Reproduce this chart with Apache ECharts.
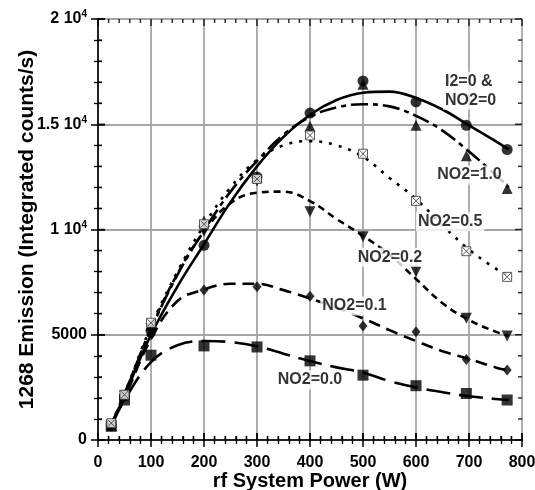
<!DOCTYPE html>
<html><head><meta charset="utf-8">
<script src="https://cdn.jsdelivr.net/npm/echarts@6.0.0/dist/echarts.min.js"></script>
<style>html,body{margin:0;padding:0;background:#fff}#c{width:535px;height:490px}</style>
</head><body><div id="c"></div>
<script>
// ---- data ----
const measPower = [25, 50, 100, 200, 300, 400, 500, 600, 695, 772];
const measI2NO2zero = [680, 2100, 5200, 9250, 12500, 15530, 17060, 16060, 14950, 13800];
const measNO2_10 = [700, 2150, 5450, 10400, 12500, 14900, 16900, 14950, 13500, 11950];
const measNO2_05 = [800, 2150, 5570, 10250, 12400, 14470, 13600, 11360, 8970, 7750];
const measNO2_02 = [700, 2100, 5300, 9900, 12300, 10840, 9650, 7990, 5780, 4940];
const measNO2_01 = [750, 2050, 5000, 7120, 7280, 6830, 5410, 5140, 3830, 3320];
const measNO2_00 = [650, 1900, 4030, 4470, 4420, 3760, 3080, 2580, 2210, 1900];

const fitPower = [25, 50, 100, 150, 200, 250, 300, 350, 400, 450, 500, 550, 600, 650, 700, 750, 775];
const fitI2NO2zero = [700, 2100, 5000, 7300, 9300, 11300, 13000, 14400, 15450, 16150, 16500, 16550, 16250, 15700, 14950, 14200, 13800];
const fitNO2_10 = [700, 2200, 5250, 7850, 9950, 11800, 13250, 14500, 15350, 15800, 15950, 15850, 15400, 14700, 13700, 12600, 12000];
const fitNO2_05 = [800, 2200, 5400, 8000, 10200, 12000, 13300, 14000, 14200, 14000, 13450, 12450, 11450, 10200, 9050, 8150, 7800];
const fitNO2_02 = [700, 2150, 5300, 7900, 9900, 11250, 11750, 11800, 11350, 10500, 9700, 8800, 7650, 6500, 5700, 5150, 4950];
const fitNO2_01 = [750, 2000, 4800, 6600, 7150, 7420, 7420, 7120, 6720, 6280, 5780, 5220, 4700, 4220, 3850, 3450, 3300];
const fitNO2_00 = [650, 1900, 3700, 4500, 4700, 4650, 4450, 4100, 3750, 3450, 3200, 2800, 2500, 2270, 2080, 1950, 1900];

const xTicks = [0, 100, 200, 300, 400, 500, 600, 700, 800];
const yTicks = [0, 5000, 10000, 15000, 20000];
const yTickLabels = {0: '0', 5000: '5000', 10000: '1 10{s|4}', 15000: '1.5 10{s|4}', 20000: '2 10{s|4}'};
const xMinorStep = 20;
const yMinorStep = 1000;

const noteText = ['I2=0 &\nNO2=0', 'NO2=1.0', 'NO2=0.5', 'NO2=0.2', 'NO2=0.1', 'NO2=0.0'];
const noteX = [651, 701, 664.5, 551, 484, 400];
const noteY = [16590, 12590, 10370, 8680, 6370, 2850];
const noteAlign = ['left', 'center', 'center', 'center', 'center', 'center'];

// ---- chart ----
const FONT = '"Liberation Sans", Arial, Helvetica, sans-serif';
const pairs = (xs, ys) => xs.map((x, i) => [x, ys[i]]);
const chart = echarts.init(document.getElementById('c'), null, {renderer: 'canvas'});
const X_MIN = xTicks[0], X_MAX = xTicks[xTicks.length - 1];
const Y_MIN = yTicks[0], Y_MAX = yTicks[yTicks.length - 1];

const gridColor = '#a6a6a6';
function axisCommon() {
  return {
    axisLine: {show: true, lineStyle: {color: '#222', width: 2}},
    axisTick: {show: true, inside: true, length: 7, lineStyle: {color: '#000', width: 1.5}},
    minorTick: {show: true, splitNumber: 5, length: 4, lineStyle: {color: '#000', width: 1.3}}
  };
}

// frame tick positions (values on the axes' own scales)
const xMajorVals = [], xMinorVals = [], yMajorVals = [], yMinorVals = [];
for (let v = X_MIN; v <= X_MAX; v += xMinorStep) (xTicks.includes(v) ? xMajorVals : xMinorVals).push(v);
for (let v = Y_MIN; v <= Y_MAX; v += yMinorStep) (yTicks.includes(v) ? yMajorVals : yMinorVals).push(v);

function tickSeries(points, size, offset) {
  return {
    type: 'scatter', data: points, symbol: 'rect', symbolSize: size, symbolOffset: offset,
    itemStyle: {color: '#000'}, silent: true, clip: false, z: 6,
    xAxisIndex: 0, yAxisIndex: 0, animation: false
  };
}
const MAJ = 7, MIN = 4, TW = 1.5;
const tickSeriesList = [
  tickSeries(xMajorVals.map(v => [v, Y_MIN]), [TW, MAJ], [0, -MAJ / 2]),
  tickSeries(xMinorVals.map(v => [v, Y_MIN]), [TW, MIN], [0, -MIN / 2]),
  tickSeries(xMajorVals.map(v => [v, Y_MAX]), [TW, MAJ], [0, MAJ / 2]),
  tickSeries(xMinorVals.map(v => [v, Y_MAX]), [TW, MIN], [0, MIN / 2]),
  tickSeries(yMajorVals.map(v => [X_MIN, v]), [MAJ, TW], [MAJ / 2, 0]),
  tickSeries(yMinorVals.map(v => [X_MIN, v]), [MIN, TW], [MIN / 2, 0]),
  tickSeries(yMajorVals.map(v => [X_MAX, v]), [MAJ, TW], [-MAJ / 2, 0]),
  tickSeries(yMinorVals.map(v => [X_MAX, v]), [MIN, TW], [-MIN / 2, 0])
];

function fitSeries(name, data, dash) {
  return {
    name, type: 'line', data, smooth: 0.4, showSymbol: false, symbol: 'none',
    lineStyle: {color: '#000', width: 2.6, type: dash, cap: 'butt'},
    z: 2, silent: true, xAxisIndex: 0, yAxisIndex: 0
  };
}
function measSeries(name, data, symbol, size, extra) {
  return Object.assign({
    name, type: 'scatter', data, symbol, symbolSize: size,
    itemStyle: {color: '#000'}, z: 3, xAxisIndex: 0, yAxisIndex: 0
  }, extra || {});
}

const notesSeries = {
  name: 'notes', type: 'scatter', z: 10, zlevel: 1, silent: true, xAxisIndex: 0, yAxisIndex: 0,
  symbol: 'circle', symbolSize: 1, itemStyle: {color: 'rgba(0,0,0,0)'},
  data: noteText.map((t, i) => ({name: t, value: [noteX[i], noteY[i]], label: {align: noteAlign[i]}})),
  label: {
    show: true, position: 'inside', formatter: p => p.name,
    fontFamily: FONT, fontWeight: 'bold', fontSize: 16, color: '#000', lineHeight: 19,
    backgroundColor: '#fff', padding: [0, 2]
  }
};

const option = {
  animation: false,
  backgroundColor: '#fff',
  grid: {left: 98, right: 13, top: 19, bottom: 50, outerBoundsMode: 'none'},
  xAxis: [
    Object.assign(axisCommon(), {
      type: 'value', min: X_MIN, max: X_MAX, interval: 100, position: 'bottom',
      name: 'rf System Power (W)', nameLocation: 'middle', nameGap: 31, nameMoveOverlap: false,
      nameTextStyle: {fontFamily: FONT, fontWeight: 'bold', fontSize: 20, color: '#000'},
      axisLabel: {show: true, margin: 15, fontFamily: FONT, fontWeight: 'bold', fontSize: 16, color: '#000',
        formatter: v => xTicks.includes(v) ? String(v) : ''},
      splitLine: {show: true, lineStyle: {color: gridColor, width: 1.8}}
    }),
    Object.assign(axisCommon(), {
      type: 'value', min: X_MIN, max: X_MAX, interval: 100, position: 'top',
      axisLabel: {show: false}, splitLine: {show: false}
    })
  ],
  yAxis: [
    Object.assign(axisCommon(), {
      type: 'value', min: Y_MIN, max: Y_MAX, interval: 5000, position: 'left',
      name: '1268 Emission (Integrated counts/s)', nameLocation: 'middle', nameGap: 60, nameRotate: 90,
      nameMoveOverlap: false,
      nameTextStyle: {fontFamily: FONT, fontWeight: 'bold', fontSize: 21, color: '#000'},
      axisLabel: {show: true, margin: 11, fontFamily: FONT, fontWeight: 'bold', fontSize: 16, color: '#000',
        formatter: v => yTickLabels[v] !== undefined ? yTickLabels[v] : '',
        rich: {
          s: {fontFamily: FONT, fontWeight: 'bold', fontSize: 10, color: '#000', verticalAlign: 'bottom', padding: [0, 0, 9, 0]}
        }},
      splitLine: {show: true, lineStyle: {color: gridColor, width: 1.8}}
    }),
    Object.assign(axisCommon(), {
      type: 'value', min: Y_MIN, max: Y_MAX, interval: 5000, position: 'right',
      axisLabel: {show: false}, splitLine: {show: false}
    })
  ],
  series: [
    fitSeries('fit I2=0 & NO2=0', pairs(fitPower, fitI2NO2zero), 'solid'),
    fitSeries('fit NO2=1.0', pairs(fitPower, fitNO2_10), [17, 5, 5, 5]),
    fitSeries('fit NO2=0.5', pairs(fitPower, fitNO2_05), [3, 7]),
    fitSeries('fit NO2=0.2', pairs(fitPower, fitNO2_02), [7, 5]),
    fitSeries('fit NO2=0.1', pairs(fitPower, fitNO2_01), [12, 7]),
    fitSeries('fit NO2=0.0', pairs(fitPower, fitNO2_00), [24, 9]),
    measSeries('NO2=0.0', pairs(measPower, measNO2_00), 'rect', 11),
    measSeries('NO2=0.1', pairs(measPower, measNO2_01), 'diamond', [9, 11]),
    measSeries('NO2=0.2', pairs(measPower, measNO2_02), 'triangle', 11, {symbolRotate: 180}),
    measSeries('I2=0 & NO2=0', pairs(measPower, measI2NO2zero), 'circle', 11),
    measSeries('NO2=1.0', pairs(measPower, measNO2_10), 'triangle', 11),
    measSeries('NO2=0.5', pairs(measPower, measNO2_05), 'path://M0,0H10V10H0Z M1,1L9,9 M9,1L1,9', 9,
      {itemStyle: {color: '#fff', borderColor: '#333', borderWidth: 1}}),
    notesSeries
  ].concat(tickSeriesList)
};
chart.setOption(option);
</script></body></html>
